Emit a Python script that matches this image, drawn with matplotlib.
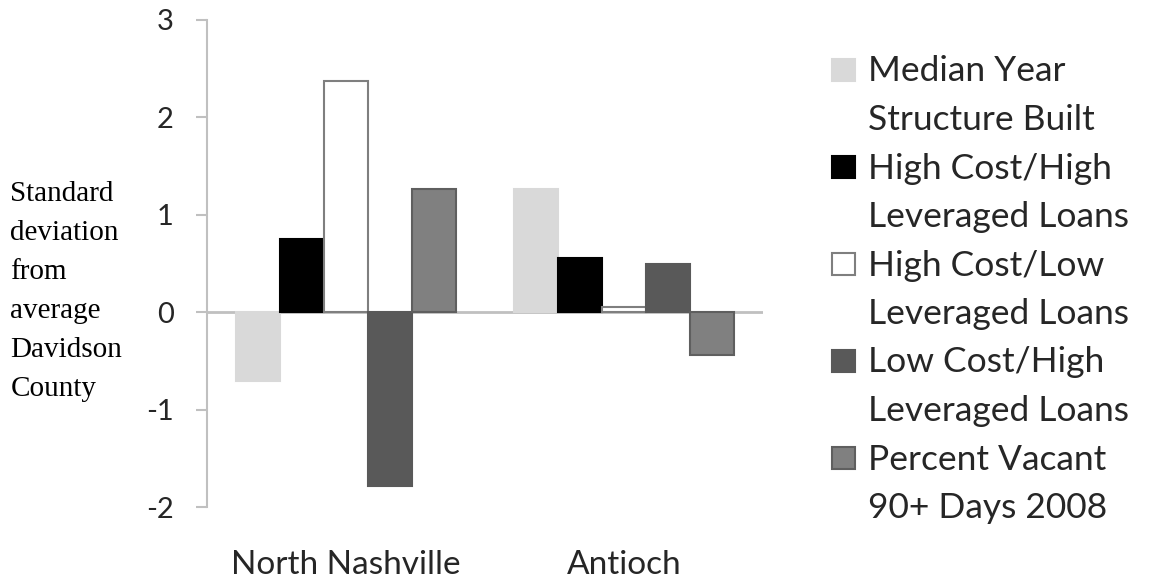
import numpy as np
import matplotlib
matplotlib.use('Agg')
import matplotlib.pyplot as plt
from matplotlib.patches import Rectangle

# data
areas = ['North Nashville', 'Antioch']
series = ['Median Year\nStructure Built',
          'High Cost/High\nLeveraged Loans',
          'High Cost/Low\nLeveraged Loans',
          'Low Cost/High\nLeveraged Loans',
          'Percent Vacant\n90+ Days 2008']
median_year = [-0.71, 1.26]
hc_hl = [0.75, 0.56]
hc_ll = [2.37, 0.05]
lc_hl = [-1.78, 0.49]
vacant = [1.26, -0.44]
values = [median_year, hc_hl, hc_ll, lc_hl, vacant]

faces = ['#d9d9d9', '#000000', '#ffffff', '#595959', '#808080']
edges = ['#d9d9d9', '#000000', '#7f7f7f', '#595959', '#5f5f5f']

plt.rcParams['font.family'] = ['Lato', 'DejaVu Sans']

W, H = 1158, 583
fig = plt.figure(figsize=(W / 100, H / 100), dpi=100)
# axes box in pixels: x 207..763, y(3)=20, y(-2)=507
ax = fig.add_axes([207 / W, 1 - 507 / H, (763 - 207) / W, (507 - 20) / H])

x = np.arange(len(areas))
w = 0.158
for i, (vals, fc, ec) in enumerate(zip(values, faces, edges)):
    ax.bar(x + (i - 2) * w, vals, w, color=fc, edgecolor=ec, linewidth=1.5,
           zorder=3, label=series[i])

ax.axhline(0, color='#c0c0c0', linewidth=2, zorder=2)
ax.set_xlim(-0.5, 1.5)
ax.set_ylim(-2, 3)
ax.set_yticks([-2, -1, 0, 1, 2, 3])
ax.set_yticklabels(['-2', '-1', '0', '1', '2', '3'], fontsize=21, color='#262626')
ax.set_xticks(x)
ax.set_xticklabels(areas, fontsize=24, color='#262626')
ax.tick_params(axis='x', length=0, pad=31)
ax.tick_params(axis='y', length=8, width=1.5, color='#c0c0c0', pad=16)
for s in ['top', 'right', 'bottom']:
    ax.spines[s].set_visible(False)
ax.spines['left'].set_color('#c0c0c0')
ax.spines['left'].set_linewidth(1.5)

fig.text(0.009, 0.690, 'Standard\ndeviation\nfrom\naverage\nDavidson\nCounty',
         family='Liberation Serif', fontsize=21, va='top', ha='left',
         linespacing=1.65)

# legend drawn by hand so the swatch sits on the first line of each entry
line_h = 48.5
y0 = 70
for i, (lab, fc, ec) in enumerate(zip(series, faces, edges)):
    for j, part in enumerate(lab.split('\n')):
        yc = y0 + (2 * i + j) * line_h
        fig.text(868 / W, 1 - (yc + 11.5) / H, part, fontsize=25.5,
                 color='#262626', va='baseline', ha='left')
    yc = y0 + 2 * i * line_h
    fig.add_artist(Rectangle((832 / W, 1 - (yc + 11) / H), 23 / W, 22 / H,
                             transform=fig.transFigure, facecolor=fc,
                             edgecolor=ec, linewidth=1.5))

fig.savefig('out.png', dpi=100)
